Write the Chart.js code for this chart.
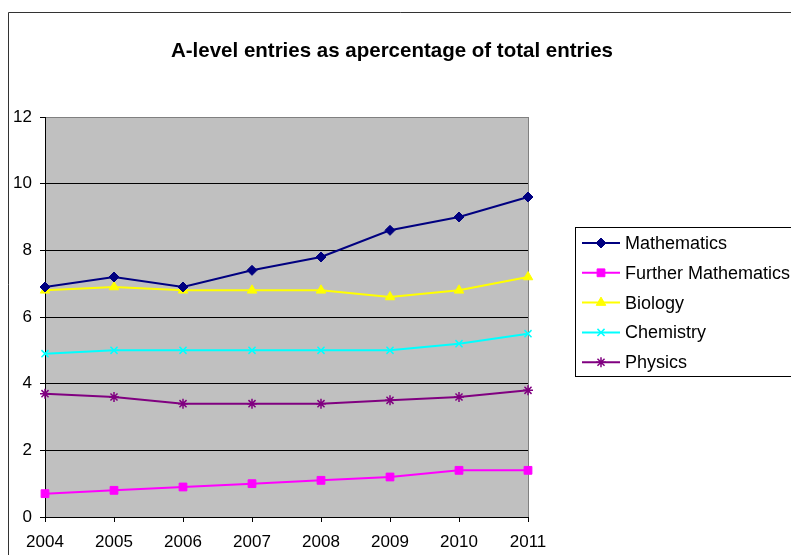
<!DOCTYPE html>
<html>
<head>
<meta charset="utf-8">
<script src="https://cdn.jsdelivr.net/npm/chart.js@4/dist/chart.umd.min.js"></script>
<style>
    html, body { margin: 0; padding: 0; background: #fff; }
    #wrap { width: 791px; height: 555px; }
</style>
</head>
<body>
<div id="wrap"><canvas id="entriesChart" width="791" height="555"></canvas></div>
<script>
const years = ["2004", "2005", "2006", "2007", "2008", "2009", "2010", "2011"];

const mathematics = [6.9, 7.2, 6.9, 7.4, 7.8, 8.6, 9.0, 9.6];
const furtherMaths = [0.7, 0.8, 0.9, 1.0, 1.1, 1.2, 1.4, 1.4];
const biology = [6.8, 6.9, 6.8, 6.8, 6.8, 6.6, 6.8, 7.2];
const chemistry = [4.9, 5.0, 5.0, 5.0, 5.0, 5.0, 5.2, 5.5];
const physics = [3.7, 3.6, 3.4, 3.4, 3.4, 3.5, 3.6, 3.8];

const yTicks = [0, 2, 4, 6, 8, 10, 12];

const chartTitle = "A-level entries as apercentage of total entries";

const FONT = "Arial, 'Liberation Sans', sans-serif";

const series = (label, data, color, style, radius) => ({
    label,
    data,
    borderColor: color,
    backgroundColor: color,
    pointBackgroundColor: color,
    pointBorderColor: color,
    pointStyle: style,
    pointRadius: radius,
    pointBorderWidth: style === "crossRot" || style === "star" ? 1.5 : 1,
    borderWidth: 2,
    tension: 0,
    fill: false,
});

// grey plot area + Excel style frame, title and legend
const excelLook = {
    id: "excelLook",
    beforeDraw(chart) {
        const { ctx, chartArea: a } = chart;
        ctx.save();
        ctx.fillStyle = "#fff";
        ctx.fillRect(0, 0, chart.width, chart.height);
        ctx.fillStyle = "#c0c0c0";
        ctx.fillRect(a.left, a.top, a.right - a.left, a.bottom - a.top);
        // outer chart frame
        ctx.strokeStyle = "#333";
        ctx.lineWidth = 1;
        ctx.beginPath();
        ctx.moveTo(8.5, chart.height + 5);
        ctx.lineTo(8.5, 12.5);
        ctx.lineTo(chart.width + 5, 12.5);
        ctx.stroke();
        // title
        ctx.fillStyle = "#000";
        ctx.font = "bold 20.5px " + FONT;
        ctx.textAlign = "center";
        ctx.textBaseline = "alphabetic";
        ctx.fillText(chartTitle, 392, 57);
        ctx.restore();
    },
    afterDraw(chart) {
        const { ctx } = chart;
        ctx.save();
        ctx.strokeStyle = "#000";
        ctx.lineWidth = 1;
        ctx.strokeRect(575.5, 227.5, 300, 149);
        ctx.font = "18px " + FONT;
        ctx.textBaseline = "middle";
        chart.data.datasets.forEach((ds, i) => {
            const y = 243 + i * 29.8;
            ctx.strokeStyle = ds.borderColor;
            ctx.lineWidth = 2;
            ctx.beginPath();
            ctx.moveTo(582, y);
            ctx.lineTo(620, y);
            ctx.stroke();
            ctx.fillStyle = ds.pointBackgroundColor;
            ctx.strokeStyle = ds.pointBorderColor;
            ctx.lineWidth = ds.pointBorderWidth;
            Chart.helpers.drawPoint(ctx, {
                pointStyle: ds.pointStyle,
                radius: ds.pointRadius,
                rotation: 0,
                borderWidth: ds.pointBorderWidth,
            }, 601, y);
            ctx.fillStyle = "#000";
            ctx.fillText(ds.label, 625, y + 1);
        });
        ctx.restore();
    },
};

new Chart(document.getElementById("entriesChart"), {
    type: "line",
    data: {
        labels: years,
        datasets: [
            series("Mathematics", mathematics, "#000080", "rectRot", 5),
            series("Further Mathematics", furtherMaths, "#ff00ff", "rect", 5.5),
            series("Biology", biology, "#ffff00", "triangle", 5.5),
            series("Chemistry", chemistry, "#00ffff", "crossRot", 5),
            series("Physics", physics, "#800080", "star", 5),
        ],
    },
    options: {
        responsive: false,
        animation: false,
        layout: { padding: { top: 117, right: 263, bottom: 0, left: 0 } },
        plugins: {
            legend: { display: false },
            tooltip: { enabled: false },
            title: { display: false },
        },
        scales: {
            x: {
                type: "category",
                offset: false,
                afterFit: (s) => { s.height = 38; },
                grid: {
                    offset: false,
                    drawOnChartArea: true,
                    color: (c) => (c.index === years.length - 1 ? "#808080" : "rgba(0,0,0,0)"),
                    tickColor: "#000",
                    tickLength: 5,
                },
                border: { color: "#000", width: 1 },
                ticks: {
                    color: "#000",
                    font: { family: FONT, size: 17 },
                    padding: 10,
                    maxRotation: 0,
                    autoSkip: false,
                },
            },
            y: {
                min: 0,
                max: 12,
                afterFit: (s) => { s.width = 45; },
                afterBuildTicks: (s) => { s.ticks = yTicks.map((v) => ({ value: v })); },
                grid: {
                    color: (c) => (c.tick && c.tick.value === 12 ? "#808080" : "#000"),
                    tickColor: "#000",
                    tickLength: 5,
                },
                border: { color: "#000", width: 1 },
                ticks: {
                    color: "#000",
                    font: { family: FONT, size: 17 },
                    padding: 8,
                },
            },
        },
    },
    plugins: [excelLook],
});
</script>
</body>
</html>
